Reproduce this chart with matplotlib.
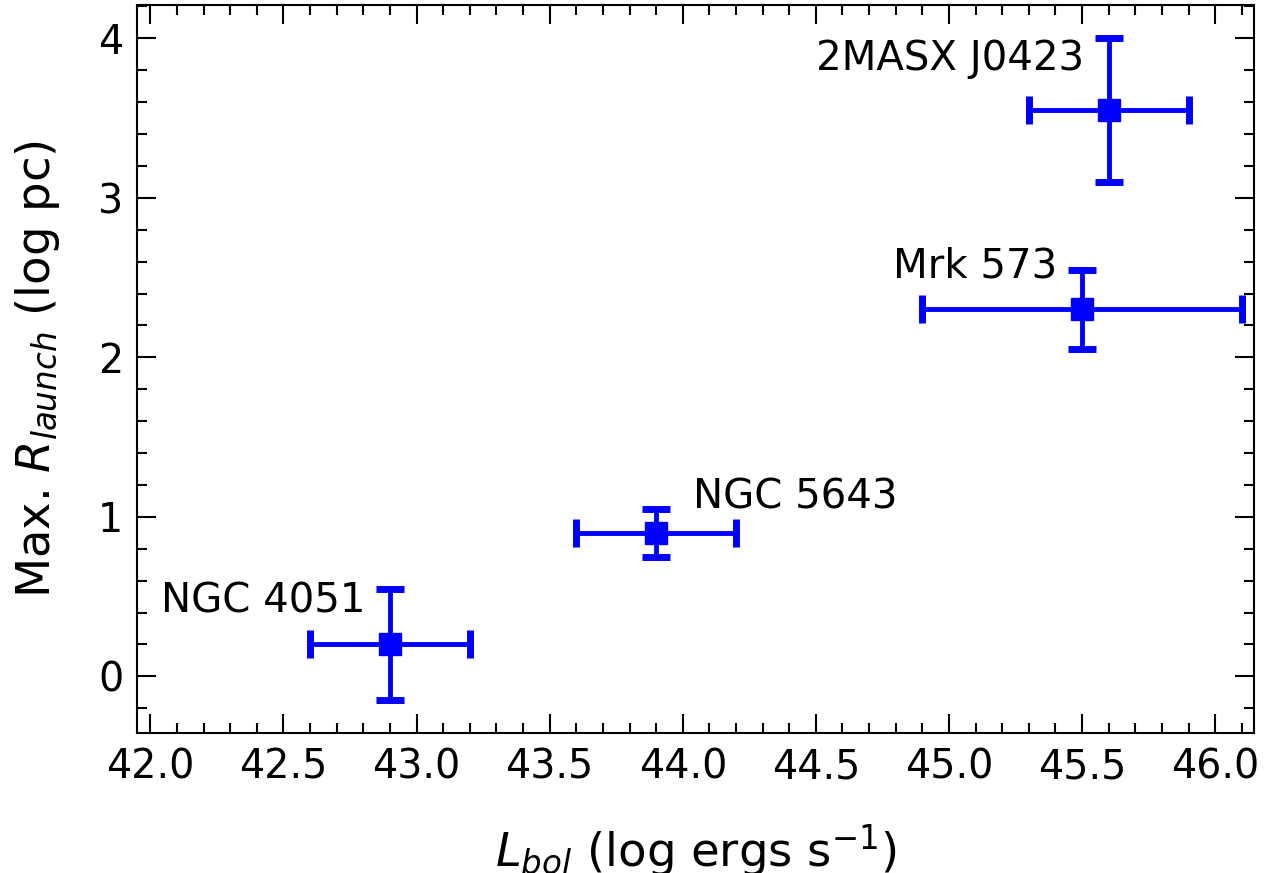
import matplotlib
matplotlib.use('Agg')
import matplotlib.pyplot as plt
from matplotlib.ticker import MultipleLocator

plt.rcParams.update({'font.size': 28})

names = ['NGC 4051', 'NGC 5643', 'Mrk 573', '2MASX J0423']
lbol = [42.9, 43.9, 45.5, 45.6]
lbol_err = [0.3, 0.3, 0.6, 0.3]
rlaunch = [0.2, 0.9, 2.3, 3.55]
rlaunch_err = [0.35, 0.15, 0.25, 0.45]
# where each name is written (left edge, baseline)
label_x = [42.04, 44.04, 44.79, 44.5]
label_y = [0.4, 1.05, 2.5, 3.8]

fig = plt.figure(figsize=(12.69, 8.73), dpi=100)
ax = fig.add_axes([0.108, 0.160, 0.880, 0.834])

ax.errorbar(lbol, rlaunch, xerr=lbol_err, yerr=rlaunch_err, fmt='s', color='blue',
            markersize=16, elinewidth=3.5, capsize=10, capthick=5)

for n, x, y in zip(names, label_x, label_y):
    ax.text(x, y, n, ha='left', va='baseline', fontsize=29)

ax.set_xlim(41.95, 46.145)
ax.set_ylim(-0.3575, 4.2075)
ax.xaxis.set_major_locator(MultipleLocator(0.5))
ax.xaxis.set_minor_locator(MultipleLocator(0.1))
ax.yaxis.set_major_locator(MultipleLocator(1))
ax.yaxis.set_minor_locator(MultipleLocator(0.2))
ax.tick_params(which='both', direction='in', top=True, right=True, width=1.5, labelsize=28.5)
ax.tick_params(which='major', length=14, pad=10)
ax.tick_params(which='minor', length=7)
for s in ax.spines.values():
    s.set_linewidth(1.5)

ax.set_xlabel(r'$L_{bol}$ (log ergs s$^{-1}$)', fontsize=33.5, labelpad=25)
ax.set_ylabel(r'Max. $R_{launch}$ (log pc)', fontsize=33.5, labelpad=26)

fig.savefig('out.png', dpi=100)
